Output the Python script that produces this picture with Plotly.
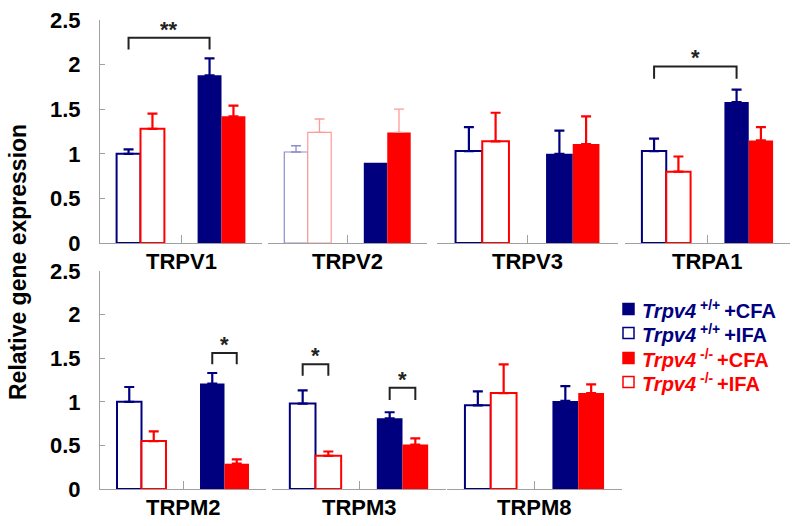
import plotly.graph_objects as go

# ---------------- data ----------------
genes = ["TRPV1", "TRPV2", "TRPV3", "TRPA1", "TRPM2", "TRPM3", "TRPM8"]
treatments = ["IFA", "CFA"]

wt_ifa = [1.00, 1.02, 1.03, 1.03, 1.00, 0.98, 0.96]
ko_ifa = [1.28, 1.24, 1.14, 0.80, 0.55, 0.38, 1.10]
wt_cfa = [1.88, 0.90, 1.00, 1.58, 1.21, 0.81, 1.01]
ko_cfa = [1.42, 1.24, 1.11, 1.15, 0.29, 0.51, 1.10]

wt_ifa_err = [0.05, 0.07, 0.27, 0.14, 0.17, 0.15, 0.16]
ko_ifa_err = [0.17, 0.15, 0.32, 0.17, 0.11, 0.05, 0.33]
wt_cfa_err = [0.19, None, 0.26, 0.14, 0.12, 0.07, 0.17]
ko_cfa_err = [0.12, 0.26, 0.31, 0.15, 0.05, 0.07, 0.10]

y_ticks = [0, 0.5, 1, 1.5, 2, 2.5]
y_tick_labels = ["0", "0.5", "1", "1.5", "2", "2.5"]

# significance brackets: gene, (group, genotype) from, to, top, leg bottom, label
sig_gene = ["TRPV1", "TRPA1", "TRPM2", "TRPM3", "TRPM3"]
sig_from = [("IFA", "wt"), ("IFA", "wt"), ("CFA", "wt"), ("IFA", "wt"), ("CFA", "wt")]
sig_to = [("CFA", "wt"), ("CFA", "wt"), ("CFA", "ko"), ("IFA", "ko"), ("CFA", "ko")]
sig_top = [2.30, 1.98, 1.56, 1.43, 1.16]
sig_leg = [2.17, 1.84, 1.43, 1.30, 1.02]
sig_label = ["**", "*", "*", "*", "*"]

legend_labels = [
    "<b><i>Trpv4</i><sup> +/+ </sup>+CFA</b>",
    "<b><i>Trpv4</i><sup> +/+ </sup>+IFA</b>",
    "<b><i>Trpv4</i><sup> -/- </sup>+CFA</b>",
    "<b><i>Trpv4</i><sup> -/- </sup>+IFA</b>",
]

# ---------------- style / layout ----------------
W, H = 800, 526
NAVY = "#00007F"
RED = "#FF0000"
NAVY_FADE = "#8C8CCC"
RED_FADE = "#FF9A9A"
AXIS_GRAY = "#A0A0A0"
FONT = "Liberation Sans, Arial, sans-serif"
faded_ifa_genes = ["TRPV2"]
faded_err_genes = {"TRPV2": ["wt_ifa", "ko_ifa", "ko_cfa"]}

x_px = [(100, 262), (268, 427), (437, 618), (625, 790),
        (100, 266), (272, 446), (447, 622)]
row_px = [(20, 243)] * 4 + [(271, 489)] * 3

BAR_HALF = (1 - 0.41) / 4  # offset of bar centre from category centre


def xpos(group, geno):
    return treatments.index(group) + (-BAR_HALF if geno == "wt" else BAR_HALF)


fig = go.Figure()
layout_axes = {}

for i, g in enumerate(genes):
    n = i + 1
    xa = "x" if n == 1 else f"x{n}"
    ya = "y" if n == 1 else f"y{n}"
    series = [
        ("wt_ifa", "IFA", "wt", wt_ifa[i], wt_ifa_err[i], NAVY, True),
        ("ko_ifa", "IFA", "ko", ko_ifa[i], ko_ifa_err[i], RED, True),
        ("wt_cfa", "CFA", "wt", wt_cfa[i], wt_cfa_err[i], NAVY, False),
        ("ko_cfa", "CFA", "ko", ko_cfa[i], ko_cfa_err[i], RED, False),
    ]
    for key, grp, geno, val, err, col, openbar in series:
        fade_bar = openbar and g in faded_ifa_genes
        fade_err = key in faded_err_genes.get(g, [])
        bcol = (NAVY_FADE if col == NAVY else RED_FADE) if fade_bar else col
        ecol = (NAVY_FADE if col == NAVY else RED_FADE) if fade_err else col
        if openbar:
            marker = dict(color="white", line=dict(color=bcol, width=1.2 if fade_bar else 2))
        else:
            marker = dict(color=col, line=dict(width=0))
        fig.add_trace(go.Bar(
            x=[grp], y=[val], xaxis=xa, yaxis=ya,
            offsetgroup=geno, marker=marker, showlegend=False,
            error_y=dict(type="data", symmetric=False, array=[err], arrayminus=[0],
                         color=ecol, thickness=1.3 if fade_err else 2.2, width=5,
                         visible=err is not None),
        ))
    x0, x1 = x_px[i]
    y0, y1 = row_px[i]
    first = i in (0, 4)
    layout_axes["xaxis" if n == 1 else f"xaxis{n}"] = dict(
        domain=[x0 / W, x1 / W], anchor=ya, type="category",
        categoryorder="array", categoryarray=treatments, range=[-0.5, 1.5],
        showline=True, linecolor=AXIS_GRAY, linewidth=1,
        ticks="inside", tickson="boundaries", ticklen=8, tickcolor=AXIS_GRAY,
        showticklabels=False, showgrid=False, zeroline=False, fixedrange=True,
        automargin=False,
    )
    layout_axes["yaxis" if n == 1 else f"yaxis{n}"] = dict(
        domain=[1 - y1 / H, 1 - y0 / H], anchor=xa, range=[0, 2.5],
        showline=first, linecolor=AXIS_GRAY, linewidth=1,
        ticks="inside" if first else "", ticklen=5, tickcolor=AXIS_GRAY,
        tickvals=y_ticks, ticktext=y_tick_labels, showticklabels=first,
        tickfont=dict(family=FONT, size=22, color="black", weight="bold"),
        ticklabelstandoff=14,
        showgrid=False, zeroline=False, fixedrange=True, automargin=False,
    )
    # gene label under each panel
    fig.add_annotation(
        x=0.5, y=1 - (y1 + 18) / H, xref=xa, yref="paper",
        text=f"<b>{g}</b>", showarrow=False, xanchor="center", yanchor="middle",
        font=dict(family=FONT, size=22, color="black"),
    )

# significance brackets
for g, fr, to, top, leg, lab in zip(sig_gene, sig_from, sig_to, sig_top, sig_leg, sig_label):
    n = genes.index(g) + 1
    xa = "x" if n == 1 else f"x{n}"
    ya = "y" if n == 1 else f"y{n}"
    xa0, xa1 = xpos(*fr), xpos(*to)
    fig.add_shape(type="path", xref=xa, yref=ya,
                  path=f"M {xa0},{leg} L {xa0},{top} L {xa1},{top} L {xa1},{leg}",
                  line=dict(color="#222222", width=2))
    fig.add_annotation(x=(xa0 + xa1) / 2, y=top, xref=xa, yref=ya,
                       text=f"<b>{lab}</b>", showarrow=False, yanchor="bottom",
                       yshift=-6, font=dict(family=FONT, size=22, color="#222222"))

# legend (drawn)
leg_rows = [309, 333, 358, 382]
leg_fill = [NAVY, "white", RED, "white"]
leg_line = [NAVY, NAVY, RED, RED]
for r, lab, fc, lc in zip(leg_rows, legend_labels, leg_fill, leg_line):
    fig.add_shape(type="rect", xref="paper", yref="paper",
                  x0=623 / W, x1=634 / W, y0=1 - (r + 5.5) / H, y1=1 - (r - 5.5) / H,
                  fillcolor=fc, line=dict(color=lc, width=1.5))
    fig.add_annotation(x=640 / W, y=1 - r / H, xref="paper", yref="paper",
                       text=lab, showarrow=False, xanchor="left", yanchor="middle",
                       font=dict(family=FONT, size=20, color=lc))

# y axis title
fig.add_annotation(x=18 / W, y=1 - 262 / H, xref="paper", yref="paper",
                   text="<b>Relative gene expression</b>", textangle=-90,
                   showarrow=False, xanchor="center", yanchor="middle",
                   font=dict(family=FONT, size=23, color="black"))

fig.update_layout(
    width=W, height=H, margin=dict(l=0, r=0, t=0, b=0, autoexpand=False),
    paper_bgcolor="white", plot_bgcolor="white",
    barmode="group", bargap=0.41, bargroupgap=0,
    showlegend=False, **layout_axes,
)

fig.write_html(
    "out.html",
    config={"displayModeBar": False},
    post_script="document.body.style.margin='0';document.body.style.overflow='hidden';",
)
